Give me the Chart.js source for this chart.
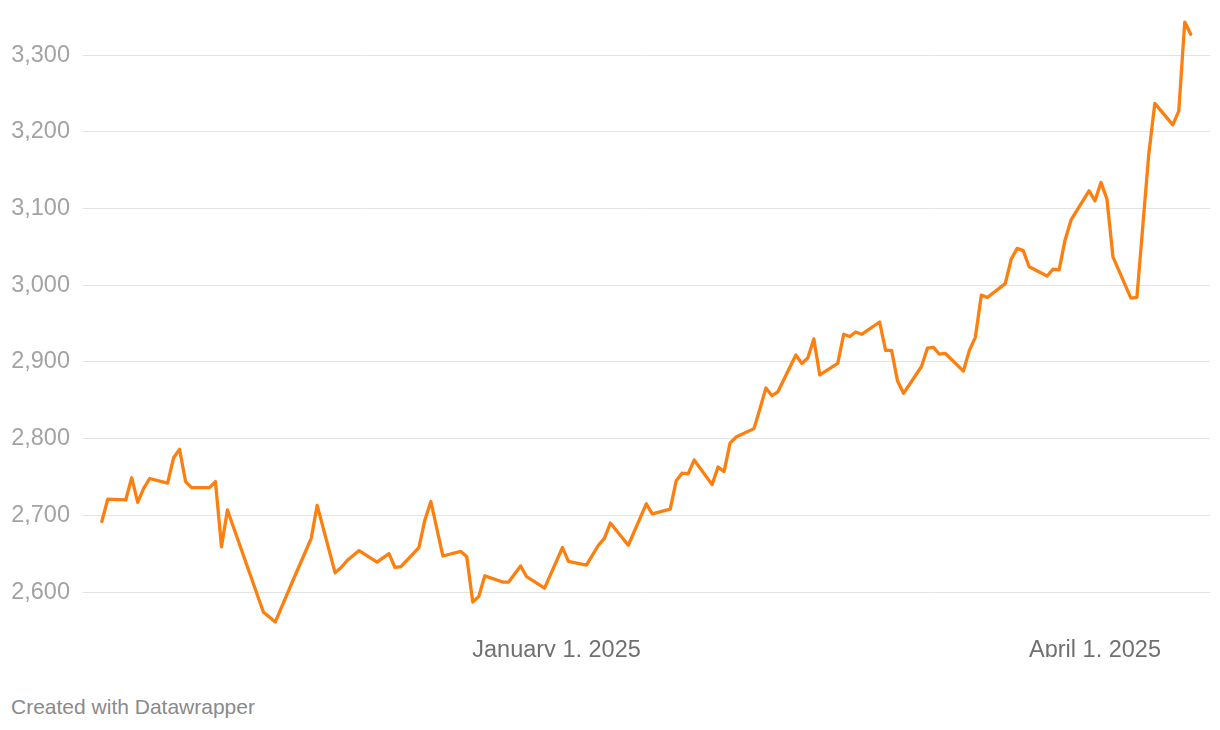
<!DOCTYPE html>
<html>
<head>
<meta charset="utf-8">
<script src="https://cdn.jsdelivr.net/npm/chart.js@4"></script>
<style>
  html, body { margin: 0; padding: 0; background: #fff; }
  body { width: 1220px; height: 730px; position: relative; overflow: hidden; font-family: "Liberation Sans", Arial, sans-serif; }
  #wrap { position: absolute; left: 0; top: 0; width: 1220px; height: 657px; overflow: hidden; }
  #footer { position: absolute; left: 11px; top: 696px; font-size: 21px; line-height: 21px; color: #8a8a8a; white-space: nowrap; }
</style>
</head>
<body>
<div id="wrap"><canvas id="c" width="1220" height="680"></canvas></div>
<div id="footer">Created with Datawrapper</div>
<script>
const dates = [
  "2024-10-17","2024-10-18","2024-10-21","2024-10-22","2024-10-23","2024-10-24","2024-10-25",
  "2024-10-28","2024-10-29","2024-10-30","2024-10-31","2024-11-01","2024-11-04","2024-11-05",
  "2024-11-06","2024-11-07","2024-11-13","2024-11-15","2024-11-18","2024-11-21","2024-11-22",
  "2024-11-25","2024-11-26","2024-11-27","2024-11-29","2024-12-02","2024-12-04","2024-12-05",
  "2024-12-06","2024-12-09","2024-12-10","2024-12-11","2024-12-13","2024-12-16","2024-12-17",
  "2024-12-18","2024-12-19","2024-12-20","2024-12-23","2024-12-24","2024-12-26","2024-12-27",
  "2024-12-30","2025-01-02","2025-01-03","2025-01-06","2025-01-08","2025-01-09","2025-01-10",
  "2025-01-13","2025-01-16","2025-01-17","2025-01-20","2025-01-21","2025-01-22","2025-01-23",
  "2025-01-24","2025-01-27","2025-01-28","2025-01-29","2025-01-30","2025-01-31","2025-02-03",
  "2025-02-04","2025-02-05","2025-02-06","2025-02-07","2025-02-10","2025-02-11","2025-02-12",
  "2025-02-13","2025-02-14","2025-02-17","2025-02-18","2025-02-19","2025-02-20","2025-02-21",
  "2025-02-24","2025-02-25","2025-02-26","2025-02-27","2025-02-28","2025-03-03","2025-03-04",
  "2025-03-05","2025-03-06","2025-03-07","2025-03-10","2025-03-11","2025-03-12","2025-03-13",
  "2025-03-14","2025-03-17","2025-03-18","2025-03-19","2025-03-20","2025-03-21","2025-03-24",
  "2025-03-25","2025-03-26","2025-03-27","2025-03-28","2025-03-31","2025-04-01","2025-04-02",
  "2025-04-03","2025-04-04","2025-04-07","2025-04-08","2025-04-10","2025-04-11","2025-04-14",
  "2025-04-15","2025-04-16","2025-04-17"
];
const prices = [
  2692,2721,2720,2749,2717,2735,2748,
  2742,2775,2786,2744,2736,2736,2744,
  2659,2707,2574,2561,2616,2670,2713,
  2625,2632,2641,2654,2639,2650,2632,
  2633,2658,2694,2718,2647,2653,2646,
  2587,2594,2621,2613,2613,2634,2620,
  2605,2658,2640,2635,2661,2670,2690,
  2661,2715,2702,2708,2745,2755,2754,
  2772,2740,2763,2757,2794,2802,2813,
  2839,2866,2856,2861,2909,2898,2905,
  2930,2883,2898,2936,2933,2939,2936,
  2952,2915,2915,2875,2859,2894,2918,
  2919,2910,2911,2888,2915,2932,2987,
  2984,3002,3034,3048,3045,3024,3012,
  3021,3020,3059,3085,3123,3110,3134,
  3112,3037,2983,2984,3172,3237,3209,
  3227,3343,3327
];
const xTickDates = ["2025-01-01", "2025-04-01"];
const xTickLabels = ["January 1, 2025", "April 1, 2025"];
const yTicks = [2600, 2700, 2800, 2900, 3000, 3100, 3200, 3300];

const refDay = Date.UTC(2025, 0, 1);
function dayNum(s) {
  const p = s.split("-").map(Number);
  return (Date.UTC(p[0], p[1] - 1, p[2]) - refDay) / 86400000;
}
const points = dates.map((d, i) => ({ x: dayNum(d), y: prices[i] }));
const xTickVals = xTickDates.map(dayNum);

const axisFont = { family: "'Liberation Sans', Arial, sans-serif", size: 23.5 };

new Chart(document.getElementById("c"), {
  type: "line",
  data: {
    datasets: [{
      data: points,
      borderColor: "#fd7f0f",
      borderWidth: 3.3,
      pointRadius: 0,
      pointHoverRadius: 0,
      tension: 0,
      fill: false,
      borderJoinStyle: "round",
      borderCapStyle: "round"
    }]
  },
  options: {
    responsive: false,
    animation: false,
    events: [],
    layout: { padding: { top: 10, right: 10, left: 0, bottom: 0 } },
    plugins: { legend: { display: false }, tooltip: { enabled: false } },
    scales: {
      x: {
        type: "linear",
        min: -79.14,
        max: 109.22,
        grid: { display: false },
        border: { display: false },
        afterBuildTicks: (s) => { s.ticks = xTickVals.map(v => ({ value: v })); },
        afterFit: (s) => { s.height = 48; s.paddingLeft = 0; s.paddingRight = 0; },
        ticks: {
          autoSkip: false,
          maxRotation: 0,
          minRotation: 0,
          padding: -4,
          color: "#707070",
          font: axisFont,
          callback: (v) => { const i = xTickVals.indexOf(v); return i >= 0 ? xTickLabels[i] : ""; }
        }
      },
      y: {
        type: "linear",
        min: 2547.9,
        max: 3358.7,
        grid: { color: "#e3e3e3", lineWidth: 1, drawTicks: false },
        border: { display: false },
        afterBuildTicks: (s) => { s.ticks = yTicks.map(v => ({ value: v })); },
        afterFit: (s) => { s.width = 83; s.paddingTop = 0; s.paddingBottom = 0; },
        ticks: {
          padding: 13,
          color: "#a3a3a3",
          font: axisFont,
          callback: (v) => Number(v).toLocaleString("en-US")
        }
      }
    }
  }
});
</script>
</body>
</html>
